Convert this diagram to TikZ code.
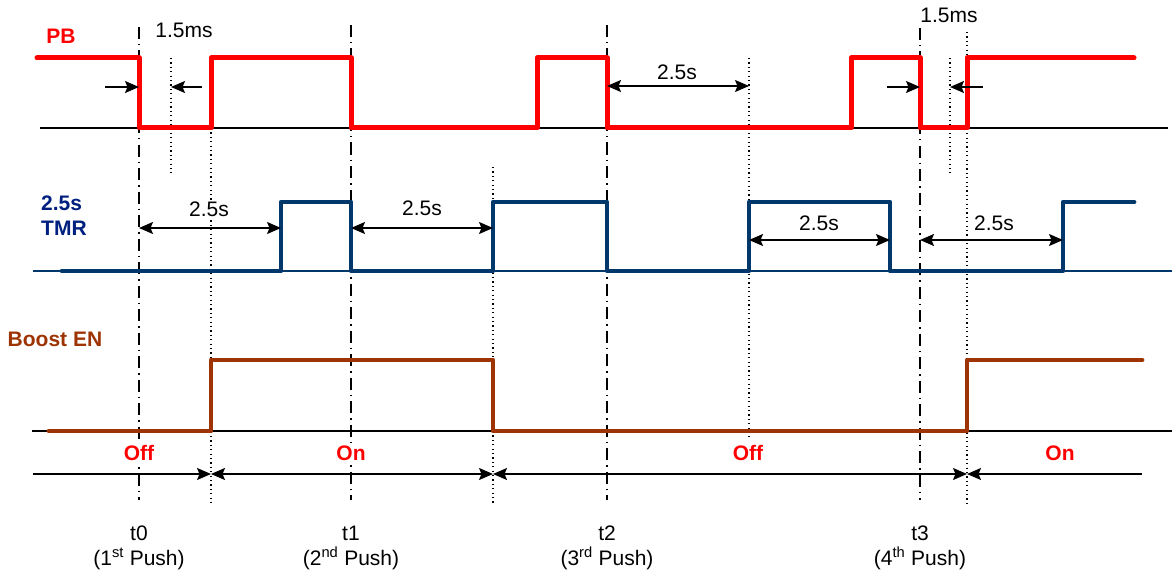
\documentclass[tikz,border=0pt]{standalone}
\usepackage{fontspec}
\setmainfont{Liberation Sans}
\usetikzlibrary{arrows.meta}
\definecolor{pbred}{RGB}{255,0,0}
\definecolor{tmrblue}{RGB}{0,56,108}
\definecolor{tmrlbl}{RGB}{0,32,128}
\definecolor{enbrown}{RGB}{158,52,4}
\begin{document}
\begin{tikzpicture}[x=1pt,y=-1pt,
  txt/.style={font=\fontsize{21}{24}\selectfont, inner sep=0pt},
  btxt/.style={font=\fontsize{21}{24}\selectfont\bfseries, inner sep=0pt},
  cover/.style={fill=white, inner sep=1pt},
  baseln/.style={line width=1.5pt, black},
  pbsig/.style={line width=5pt, pbred, line cap=round, line join=round},
  tmrsig/.style={line width=4.8pt, tmrblue, line cap=round, line join=round},
  ensig/.style={line width=4.8pt, enbrown, line cap=round, line join=round},
  tline/.style={line width=1.3pt, black, dash pattern=on 12pt off 5pt on 1.5pt off 5pt},
  dline/.style={line width=1.1pt, black, dash pattern=on 1.2pt off 3.2pt},
  tip/.tip={Stealth[length=14pt,width=12pt,inset=2.5pt]},
  dimboth/.style={line width=1.4pt, black, tip-tip},
  dimend/.style={line width=1.4pt, black, -tip},
  dimstart/.style={line width=1.4pt, black, tip-}]
\useasboundingbox (0,0) rectangle (1172,575);

% ---------- time markers (dash-dot) ----------
\coordinate (t0a) at (139,27);  \coordinate (t0b) at (139,500);
\coordinate (t1a) at (351,25);  \coordinate (t1b) at (351,500);
\coordinate (t2a) at (607,25);  \coordinate (t2b) at (607,500);
\coordinate (t3a) at (920,28);  \coordinate (t3b) at (920,500);
\draw[tline] (t0a) -- (t0b);
\draw[tline] (t1a) -- (t1b);
\draw[tline] (t2a) -- (t2b);
\draw[tline] (t3a) -- (t3b);

% ---------- dotted reference lines ----------
\coordinate (d1a) at (171,58);  \coordinate (d1b) at (171,173);
\coordinate (d2a) at (211,128); \coordinate (d2b) at (211,505);
\coordinate (d3a) at (493,167); \coordinate (d3b) at (493,505);
\coordinate (d4a) at (749,58);  \coordinate (d4b) at (749,437);
\coordinate (d5a) at (950,58);  \coordinate (d5b) at (950,173);
\coordinate (d6a) at (967,32);  \coordinate (d6b) at (967,507);
\draw[dline] (d1a) -- (d1b);
\draw[dline] (d2a) -- (d2b);
\draw[dline] (d3a) -- (d3b);
\draw[dline] (d4a) -- (d4b);
\draw[dline] (d5a) -- (d5b);
\draw[dline] (d6a) -- (d6b);

% ---------- baselines ----------
\coordinate (pbl) at (40,128);  \coordinate (pbr) at (1168,128);
\coordinate (tml) at (33,271);  \coordinate (tmr) at (1172,271);
\coordinate (enl) at (32,431);  \coordinate (enr) at (1172,431);
\draw[baseln] (pbl) -- (pbr);
\draw[line width=1.5pt, tmrblue] (tml) -- (tmr);
\draw[baseln] (enl) -- (enr);

% ---------- PB waveform ----------
\draw[pbsig] (37,58) -- (139,58) -- (139,128) -- (211,128) -- (211,58)
  -- (351,58) -- (351,128) -- (537,128) -- (537,58) -- (607,58) -- (607,128)
  -- (851,128) -- (851,58) -- (920,58) -- (920,128) -- (967,128) -- (967,58)
  -- (1134,58);

% ---------- TMR waveform ----------
\draw[tmrsig] (62,271) -- (281,271) -- (281,202) -- (351,202) -- (351,271)
  -- (493,271) -- (493,202) -- (607,202) -- (607,271) -- (749,271) -- (749,202)
  -- (890,202) -- (890,271) -- (1063,271) -- (1063,202) -- (1134,202);

% ---------- Boost EN waveform ----------
\draw[ensig] (49,431) -- (211,431) -- (211,360) -- (493,360) -- (493,431)
  -- (967,431) -- (967,360) -- (1142,360);

% ---------- labels on the left ----------
\node[btxt, text=pbred] (lpb) at (61,36) {PB};
\node[btxt, text=tmrlbl, anchor=west] (ltmr1) at (41,203) {2.5s};
\node[btxt, text=tmrlbl, anchor=west] (ltmr2) at (41,228) {TMR};
\node[btxt, text=enbrown] (len) at (55,339) {Boost EN};

% ---------- 1.5 ms arrows ----------
\coordinate (m1a) at (105,87); \coordinate (m1b) at (139,87);
\coordinate (m1c) at (202,87); \coordinate (m1d) at (171,87);
\draw[dimend] (m1a) -- (m1b);
\draw[dimend] (m1c) -- (m1d);
\node[txt] (lm1) at (184,30) {1.5ms};
\coordinate (m2a) at (887,87); \coordinate (m2b) at (920,87);
\coordinate (m2c) at (983,87); \coordinate (m2d) at (950,87);
\draw[dimend] (m2a) -- (m2b);
\draw[dimend] (m2c) -- (m2d);
\node[txt] (lm2) at (949,15) {1.5ms};

% ---------- 2.5 s arrows ----------
\coordinate (p1a) at (607,86); \coordinate (p1b) at (749,86);
\draw[dimboth] (p1a) -- (p1b);
\node[txt, cover] (lp1) at (677,72) {2.5s};

\coordinate (s1a) at (139,228); \coordinate (s1b) at (281,228);
\draw[dimboth] (s1a) -- (s1b);
\node[txt, cover] (ls1) at (209,209) {2.5s};

\coordinate (s2a) at (351,228); \coordinate (s2b) at (493,228);
\draw[dimboth] (s2a) -- (s2b);
\node[txt, cover] (ls2) at (422,208) {2.5s};

\coordinate (s3a) at (749,240); \coordinate (s3b) at (890,240);
\draw[dimboth] (s3a) -- (s3b);
\node[txt, cover] (ls3) at (819,223) {2.5s};

\coordinate (s4a) at (920,240); \coordinate (s4b) at (1063,240);
\draw[dimboth] (s4a) -- (s4b);
\node[txt, cover] (ls4) at (994,223) {2.5s};

% ---------- state line ----------
\coordinate (b0) at (33,474);
\coordinate (b1) at (211,474);
\coordinate (b2) at (493,474);
\coordinate (b3) at (967,474);
\coordinate (b4) at (1142,474);
\draw[dimend] (b0) -- (b1);
\draw[dimboth] (b1) -- (b2);
\draw[dimboth] (b2) -- (b3);
\draw[dimstart] (b3) -- (b4);
\node[btxt, cover, text=pbred] (off1) at (139,453) {Off};
\node[btxt, cover, text=pbred] (on1) at (351,453) {On};
\node[btxt, cover, text=pbred] (off2) at (748,453) {Off};
\node[btxt, cover, text=pbred] (on2) at (1060,453) {On};

% ---------- time labels ----------
\node[txt, anchor=base] (lt0) at (139,540) {t0};
\node[txt, anchor=base] (lp0) at (139,565) {(1\textsuperscript{st} Push)};
\node[txt, anchor=base] (lt1) at (351,540) {t1};
\node[txt, anchor=base] (lpp1) at (351,565) {(2\textsuperscript{nd} Push)};
\node[txt, anchor=base] (lt2) at (607,540) {t2};
\node[txt, anchor=base] (lpp2) at (607,565) {(3\textsuperscript{rd} Push)};
\node[txt, anchor=base] (lt3) at (920,540) {t3};
\node[txt, anchor=base] (lpp3) at (920,565) {(4\textsuperscript{th} Push)};
\end{tikzpicture}
\end{document}
